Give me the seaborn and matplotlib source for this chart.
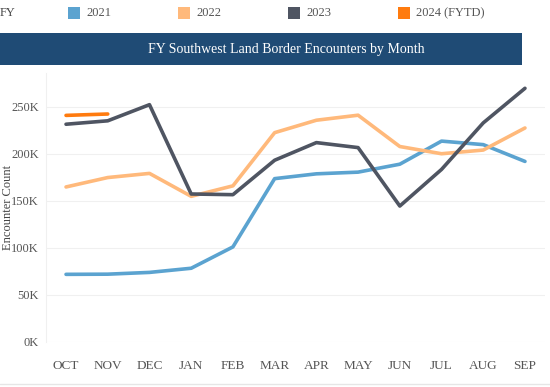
import matplotlib
matplotlib.use("Agg")
import matplotlib.pyplot as plt
from matplotlib.patches import Rectangle
import seaborn as sns
import pandas as pd

months = ["OCT", "NOV", "DEC", "JAN", "FEB", "MAR", "APR", "MAY", "JUN", "JUL", "AUG", "SEP"]
years = ["2021", "2022", "2023", "2024 (FYTD)"]
fy2021 = [71929, 72113, 73994, 78414, 101099, 173686, 178795, 180597, 189034, 213593, 209840, 192001]
fy2022 = [164837, 174845, 179253, 154874, 166010, 222574, 235785, 241136, 207834, 200162, 204087, 227547]
fy2023 = [231529, 235173, 252315, 157358, 156630, 193249, 211992, 206690, 144556, 183479, 232963, 269735]
fy2024 = [240936, 242399]
colors = ["#5ba3d0", "#ffb97b", "#4f5562", "#ff7b0f"]

rows = []
for yr, vals in zip(years, [fy2021, fy2022, fy2023, fy2024]):
    for i, v in enumerate(vals):
        rows.append({"FY": yr, "month": i, "count": v})
df = pd.DataFrame(rows)

sns.set_style("white")
plt.rcParams["font.family"] = ["Liberation Serif", "DejaVu Serif"]

fig = plt.figure(figsize=(5.5, 3.87), dpi=100)
ax = fig.add_axes([46 / 550, 1 - 342 / 387, 499 / 550, 269 / 387])

sns.lineplot(data=df, x="month", y="count", hue="FY", palette=dict(zip(years, colors)),
             linewidth=2.6, ax=ax, legend=False, solid_capstyle="round")

ax.set_xlim(-0.48, 11.48)
ax.set_ylim(0, 286000)
ax.set_xticks(range(len(months)))
ax.set_xticklabels(months)
yt = [0, 50000, 100000, 150000, 200000, 250000]
ax.set_yticks(yt)
ax.set_yticklabels([f"{v // 1000}K" for v in yt])
ax.tick_params(axis="both", length=0, labelsize=9, colors="#555555")
ax.tick_params(axis="x", labelsize=9.5, pad=13)
ax.tick_params(axis="y", pad=5)
ax.yaxis.grid(True, color="#f0f0f0", linewidth=0.8)
ax.set_axisbelow(True)
for s in ["top", "right", "bottom"]:
    ax.spines[s].set_visible(False)
ax.spines["left"].set_color("#f0f0f0")
ax.set_xlabel("")
ax.set_ylabel("Encounter Count", fontsize=9, color="#444444")
ax.yaxis.set_label_coords(-32 / 499, 0.5)

# title banner
fig.patches.append(Rectangle((0, 1 - 65 / 387), 522 / 550, 32 / 387, transform=fig.transFigure,
                             facecolor="#1f4b75", edgecolor="none"))
fig.text(286 / 550, 1 - 49 / 387, "FY Southwest Land Border Encounters by Month",
         color="white", fontsize=10, ha="center", va="center")

# legend row
fig.text(0, 1 - 13 / 387, "FY", fontsize=9, color="#444444", va="center", ha="left")
for yr, c, px in zip(years, colors, [68, 178, 288, 398]):
    fig.patches.append(Rectangle((px / 550, 1 - 19 / 387), 12 / 550, 12 / 387,
                                 transform=fig.transFigure, facecolor=c, edgecolor="none"))
    fig.text((px + 18) / 550, 1 - 13 / 387, yr, fontsize=9, color="#555555",
             va="center", ha="left")

# bottom border line
fig.add_artist(plt.Line2D([0, 1], [1 - 384 / 387] * 2, color="#e6e6e6", linewidth=1,
                          transform=fig.transFigure))

fig.savefig("out.png", dpi=100)
